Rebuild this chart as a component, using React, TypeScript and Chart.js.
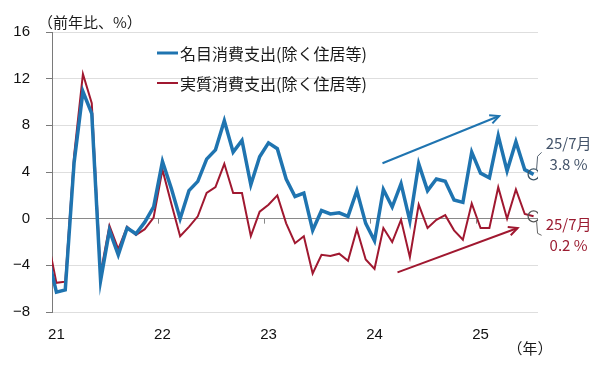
import React, { useEffect, useRef } from 'react';
import { Chart, registerables } from 'chart.js';

Chart.register(...registerables);

// Monthly year-on-year change (%), starting 2020/12 (that first point is clipped at the axis)
const firstMonthIndex = -1; // 0 = 2021/01
const yearLabels = ['21', '22', '23', '24', '25'];
const yTicks = [-8, -4, 0, 4, 8, 12, 16];
const seriesNames = ['名目消費支出(除く住居等)', '実質消費支出(除く住居等)'];

const nominal = [
  -3.1,
  -6.3, -6.1, 4.8, 10.9, 9.0, -5.3, -1.0, -3.1, -0.8, -1.3, -0.3, 1.0,
  4.9, 2.6, 0.0, 2.4, 3.2, 5.1, 5.9, 8.4, 5.7, 6.7, 2.9, 5.3,
  6.5, 6.0, 3.4, 1.9, 2.2, -1.0, 0.7, 0.4, 0.5, 0.2, 2.4, -0.4,
  -1.9, 2.5, 1.0, 3.0, -0.2, 4.7, 2.4, 3.4, 3.2, 1.6, 1.4, 5.7,
  3.9, 3.5, 7.1, 4.1, 6.6, 4.2, 3.8,
];
const real = [
  -1.7,
  -5.5, -5.4, 5.4, 12.4, 9.9, -4.7, -0.6, -2.6, -0.7, -1.4, -0.9, 0.1,
  4.2, 1.3, -1.5, -0.7, 0.2, 2.2, 2.7, 4.7, 2.2, 2.2, -1.5, 0.6,
  1.2, 2.0, -0.4, -2.1, -1.5, -4.7, -3.1, -3.2, -3.0, -3.6, -0.9, -3.5,
  -4.3, -0.8, -2.0, -0.1, -3.3, 1.2, -0.8, -0.1, 0.3, -1.0, -1.8, 1.3,
  -0.8, -0.8, 2.7, 0.0, 2.5, 0.4, 0.2,
];
const lastLabel = '25/7月';

// Trend arrows in data coordinates [monthIndex, value]
const trendArrows = [
  { from: [36.9, 4.75], to: [50.1, 8.8], series: 0 },
  { from: [38.6, -4.6], to: [52.2, -0.8], series: 1 },
];

const BLUE = '#1f74b0';
const RED = '#a01830';
const NUM_FONT = "'Liberation Sans', Arial, sans-serif";
const JP_FONT = "'Noto Sans CJK JP', 'Noto Sans', sans-serif";

const toPoints = (arr: number[]) => arr.map((v, i) => ({ x: i + firstMonthIndex, y: v }));

const decorPlugin = {
  id: 'decor',
  afterDraw(chart: any) {
    const { ctx, scales } = chart;
    const xs = scales.x;
    const ys = scales.y;
    ctx.save();

    // tick marks on the zero line between years
    const y0 = ys.getPixelForValue(0);
    ctx.strokeStyle = '#888';
    ctx.lineWidth = 1;
    for (let k = 1; k < yearLabels.length; k++) {
      const px = Math.round(xs.getPixelForValue(k * 12 - 0.5)) + 0.5;
      ctx.beginPath();
      ctx.moveTo(px, y0);
      ctx.lineTo(px, y0 + 5);
      ctx.stroke();
    }

    // legend
    chart.data.datasets.forEach((ds: any, i: number) => {
      const ly = 53 + i * 30;
      ctx.strokeStyle = ds.borderColor;
      ctx.lineWidth = i === 0 ? 3 : 2;
      ctx.beginPath();
      ctx.moveTo(157, ly);
      ctx.lineTo(178, ly);
      ctx.stroke();
      ctx.fillStyle = '#1a1a1a';
      ctx.font = `16px ${JP_FONT}`;
      ctx.textAlign = 'left';
      ctx.textBaseline = 'middle';
      ctx.fillText(ds.label, 180, ly + 1);
    });

    // axis titles
    ctx.fillStyle = '#1a1a1a';
    ctx.font = `15px ${JP_FONT}`;
    ctx.textAlign = 'left';
    ctx.textBaseline = 'middle';
    ctx.fillText('（前年比、%）', 38, 22);
    ctx.textAlign = 'center';
    ctx.fillText('（年）', 530, 348);

    // trend arrows
    trendArrows.forEach((a) => {
      const color = a.series === 0 ? BLUE : RED;
      const x1 = xs.getPixelForValue(a.from[0]);
      const y1 = ys.getPixelForValue(a.from[1]);
      const x2 = xs.getPixelForValue(a.to[0]);
      const y2 = ys.getPixelForValue(a.to[1]);
      ctx.strokeStyle = color;
      ctx.lineWidth = 2;
      ctx.beginPath();
      ctx.moveTo(x1, y1);
      ctx.lineTo(x2, y2);
      ctx.stroke();
      const ang = Math.atan2(y2 - y1, x2 - x1);
      const len = 10;
      ctx.beginPath();
      ctx.moveTo(x2 - len * Math.cos(ang - 0.45), y2 - len * Math.sin(ang - 0.45));
      ctx.lineTo(x2, y2);
      ctx.lineTo(x2 - len * Math.cos(ang + 0.45), y2 - len * Math.sin(ang + 0.45));
      ctx.stroke();
    });

    // end-point labels with leader brackets
    const lastIdx = nominal.length - 1;
    const lx = xs.getPixelForValue(lastIdx + firstMonthIndex);
    const byN = ys.getPixelForValue(nominal[lastIdx]);
    const byR = ys.getPixelForValue(real[lastIdx]);
    ctx.lineWidth = 1;
    ctx.strokeStyle = '#556270';
    ctx.beginPath();
    ctx.moveTo(lx + 3, byN - 5);
    ctx.lineTo(lx + 4, byN - 18);
    ctx.lineTo(lx + 8, byN - 22);
    ctx.stroke();
    ctx.strokeStyle = '#666';
    ctx.beginPath();
    ctx.moveTo(lx + 3, byR + 5);
    ctx.lineTo(lx + 4, byR + 17);
    ctx.lineTo(lx + 8, byR + 19);
    ctx.stroke();

    ctx.font = `15px ${JP_FONT}`;
    ctx.textAlign = 'center';
    ctx.fillStyle = '#44546a';
    ctx.fillText(lastLabel, lx + 35, byN - 31);
    ctx.fillText(`${nominal[lastIdx].toFixed(1)} %`, lx + 35, byN - 10);
    ctx.fillStyle = '#9b1c31';
    ctx.fillText(lastLabel, lx + 35, byR + 8);
    ctx.fillText(`${real[lastIdx].toFixed(1)} %`, lx + 35, byR + 29);

    ctx.restore();
  },
};

export default function App() {
  const canvasRef = useRef<HTMLCanvasElement | null>(null);

  useEffect(() => {
    const canvas = canvasRef.current;
    if (!canvas) return;
    const lastIdx = nominal.length - 1;
    const chart = new Chart(canvas, {
      type: 'line',
      data: {
        datasets: [
          {
            label: seriesNames[0],
            data: toPoints(nominal),
            borderColor: BLUE,
            backgroundColor: BLUE,
            borderWidth: 3.5,
            tension: 0,
            pointRadius: (c: any) => (c.dataIndex === lastIdx ? 5.5 : 0),
            pointBorderColor: '#3d5566',
            pointBorderWidth: 1.3,
            pointBackgroundColor: 'rgba(255,255,255,0)',
          },
          {
            label: seriesNames[1],
            data: toPoints(real),
            borderColor: RED,
            backgroundColor: RED,
            borderWidth: 2,
            tension: 0,
            pointRadius: (c: any) => (c.dataIndex === lastIdx ? 5.5 : 0),
            pointBorderColor: '#555',
            pointBorderWidth: 1.3,
            pointBackgroundColor: 'rgba(255,255,255,0)',
          },
        ],
      },
      options: {
        animation: false,
        responsive: false,
        layout: { padding: { left: 0, right: 62, top: 32, bottom: 0 } },
        plugins: {
          legend: { display: false },
          tooltip: { enabled: false },
        },
        scales: {
          x: {
            type: 'linear',
            min: -0.5,
            max: 54.5,
            grid: { display: false, drawTicks: false },
            border: { display: false },
            afterBuildTicks: (s: any) => {
              s.ticks = yearLabels.map((_, i) => ({ value: i * 12 }));
            },
            ticks: {
              callback: (v: any) => yearLabels[Math.round(Number(v) / 12)],
              font: { family: NUM_FONT, size: 15 },
              color: '#111',
              padding: 14,
              maxRotation: 0,
              autoSkip: false,
            },
            afterFit: (s: any) => {
              s.height = 55;
            },
          },
          y: {
            min: -8,
            max: 16,
            afterBuildTicks: (s: any) => {
              s.ticks = yTicks.map((v) => ({ value: v }));
            },
            grid: {
              color: (c: any) => (c.tick && c.tick.value === 0 ? '#8a8a8a' : '#dedede'),
              tickColor: '#7a7a7a',
              tickLength: 6,
              lineWidth: 1,
            },
            border: { color: '#7a7a7a', width: 1 },
            ticks: {
              callback: (v: any) => String(v).replace('-', '−'),
              font: { family: NUM_FONT, size: 15 },
              color: '#111',
              padding: 16,
            },
            afterFit: (s: any) => {
              s.width = 52;
            },
          },
        },
      },
      plugins: [decorPlugin],
    });
    return () => chart.destroy();
  }, []);

  return (
    <div style={{ position: 'fixed', left: 0, top: 0, width: 600, height: 367, background: '#fff' }}>
      <canvas ref={canvasRef} width={600} height={367} style={{ display: 'block' }} />
    </div>
  );
}
